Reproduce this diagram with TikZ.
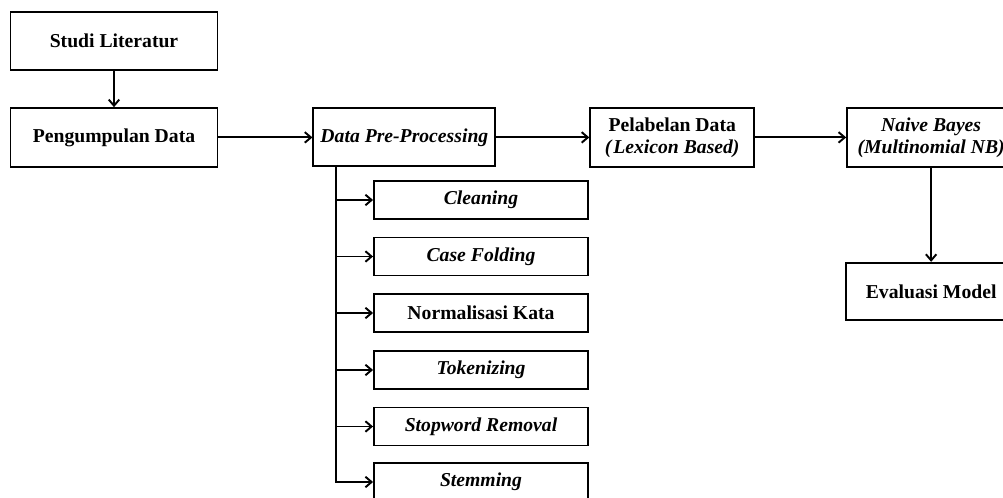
\documentclass[tikz,border=0pt]{standalone}
\usepackage{fontspec}
\setmainfont{Liberation Serif}
\usetikzlibrary{positioning, arrows.meta}

\begin{document}
\begin{tikzpicture}[x=0.02cm, y=-0.02cm,
      kotak/.style={draw, line width=1.1pt, align=center,
        font=\bfseries\fontsize{11.2}{12.6}\selectfont, inner sep=0pt},
      utama/.style={kotak, minimum width=4.14cm, minimum height=1.17cm},
      sub/.style={kotak, font=\bfseries\itshape\fontsize{11.2}{12.6}\selectfont,
        minimum width=4.28cm, minimum height=0.76cm},
      pfeil/.style={-{Straight Barb[length=3.5pt,width=6pt]}, line width=1.1pt}]
    \useasboundingbox (0,0) rectangle (1003,497);
    \clip (0,0) rectangle (1003,497);
    \node[utama] (studi) at (114,41) {Studi Literatur};
    \node[utama, below=0.72cm of studi] (kumpul) {Pengumpulan Data};
    \node[kotak, font=\bfseries\itshape\fontsize{11.2}{12.6}\selectfont,
      minimum width=3.64cm, minimum height=1.16cm, right=1.88cm of kumpul] (prepro) {Data Pre-Processing};
    \node[kotak, minimum width=3.28cm, minimum height=1.18cm, right=1.86cm of prepro] (label)
      {Pelabelan Data\\\textit{(\hspace{1pt}Lexicon Based)}};
    \node[kotak, font=\bfseries\itshape\fontsize{11.2}{12.6}\selectfont,
      minimum width=3.36cm, minimum height=1.18cm, right=1.82cm of label] (nb)
      {Naive Bayes\\(Multinomial NB)};
    \node[kotak, minimum width=3.4cm, minimum height=1.14cm, below=1.88cm of nb] (evaluasi) {Evaluasi Model};
    % tahapan pre-processing
    \foreach \nama/\teks/\y in {s1/Cleaning/200, s2/Case Folding/256.5,
        s3/{\upshape Normalisasi Kata}/313, s4/Tokenizing/370,
        s5/Stopword Removal/426.5, s6/Stemming/482}
      \node[sub] (\nama) at (481,\y) {\teks};
    \coordinate (cabang) at ([xshift=0.48cm]prepro.south west);
    \draw[pfeil] (studi) -- (kumpul);
    \draw[pfeil] (kumpul) -- (prepro);
    \draw[pfeil] (prepro) -- (label);
    \draw[pfeil] (label) -- (nb);
    \draw[pfeil] (nb) -- (evaluasi);
    \draw[pfeil] (cabang) |- (s6.west);
    \foreach \i in {1,...,5}
      \draw[pfeil] (cabang |- s\i.west) -- (s\i.west);
  \end{tikzpicture}
\end{document}
